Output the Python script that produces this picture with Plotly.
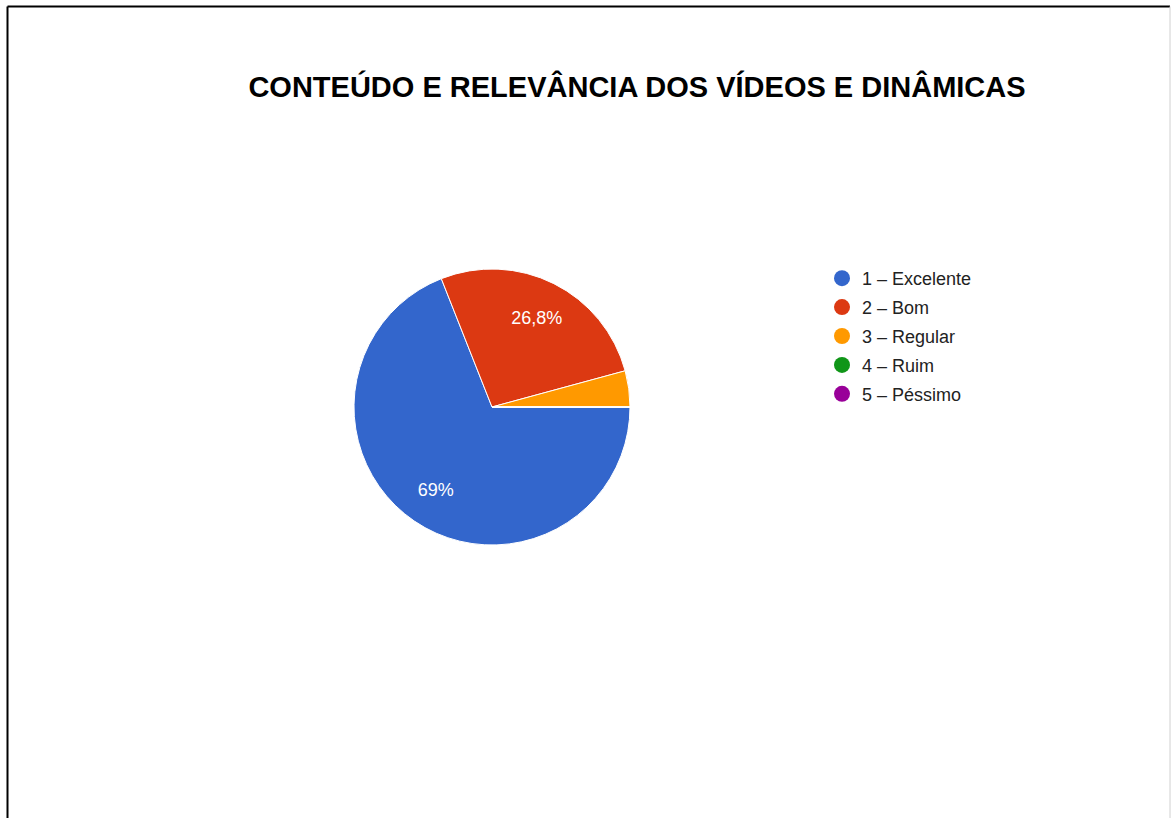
import plotly.graph_objects as go

categories = ["1 – Excelente", "2 – Bom", "3 – Regular", "4 – Ruim", "5 – Péssimo"]
counts = [49, 19, 3, 0, 0]
colors = ["#3366cc", "#dc3912", "#ff9900", "#109618", "#990099"]
title_text = "CONTEÚDO E RELEVÂNCIA DOS VÍDEOS E DINÂMICAS"

W, H = 1171, 818
total = sum(counts)
templates = ["%{percent:.1~%}" if c / total >= 0.05 else "" for c in counts]
pie_domain = dict(x=[(492 - 138) / W, (492 + 138) / W], y=[(H - 407 - 138) / H, (H - 407 + 138) / H])

fig = go.Figure()
# full pie (slices)
fig.add_trace(go.Pie(
    labels=categories, values=counts, sort=False, direction="clockwise",
    rotation=90, marker=dict(colors=colors, line=dict(color="white", width=1)),
    textinfo="none", showlegend=False, hoverinfo="label+percent",
    domain=pie_domain,
))
# transparent ring carrying the percentage labels further out
fig.add_trace(go.Pie(
    labels=categories, values=counts, sort=False, direction="clockwise",
    rotation=90, hole=0.45,
    marker=dict(colors=["rgba(0,0,0,0)"] * len(categories), line=dict(width=0)),
    texttemplate=templates, textposition="inside", insidetextorientation="horizontal",
    textfont=dict(family="Liberation Sans, Arial", size=18, color="white"),
    showlegend=False, hoverinfo="skip",
    domain=pie_domain,
))
for cat, col in zip(categories, colors):
    fig.add_trace(go.Scatter(x=[None], y=[None], mode="markers", name=cat, legendgroup=cat,
                             marker=dict(symbol="circle", size=16, color=col)))

fig.update_layout(
    width=W, height=H, autosize=False, margin=dict(l=0, r=0, t=0, b=0),
    paper_bgcolor="white", plot_bgcolor="white", separators=",.",
    xaxis=dict(visible=False), yaxis=dict(visible=False),
    title=dict(text="<b>" + title_text + "</b>", x=637 / W, xanchor="center",
               y=1 - 87 / H, yanchor="middle",
               font=dict(family="Liberation Sans, Arial", size=29, color="black")),
    legend=dict(x=822 / W, xanchor="left", y=1 - 260 / H, yanchor="top",
                font=dict(family="Liberation Sans, Arial", size=18, color="#222222"),
                itemsizing="trace", tracegroupgap=2.5, bgcolor="rgba(0,0,0,0)"),
    shapes=[
        dict(type="line", xref="paper", yref="paper", x0=7.5 / W, x1=1170 / W, y0=1 - 6.5 / H, y1=1 - 6.5 / H,
             line=dict(color="black", width=2)),
        dict(type="line", xref="paper", yref="paper", x0=7.5 / W, x1=7.5 / W, y0=1 - 6.5 / H, y1=0,
             line=dict(color="black", width=2)),
        dict(type="line", xref="paper", yref="paper", x0=1170 / W, x1=1170 / W, y0=1 - 6.5 / H, y1=0,
             line=dict(color="#d0d0d0", width=1)),
    ],
)
fig.write_html("out.html", config={"displayModeBar": False},
               post_script="document.body.style.margin='0px';")
